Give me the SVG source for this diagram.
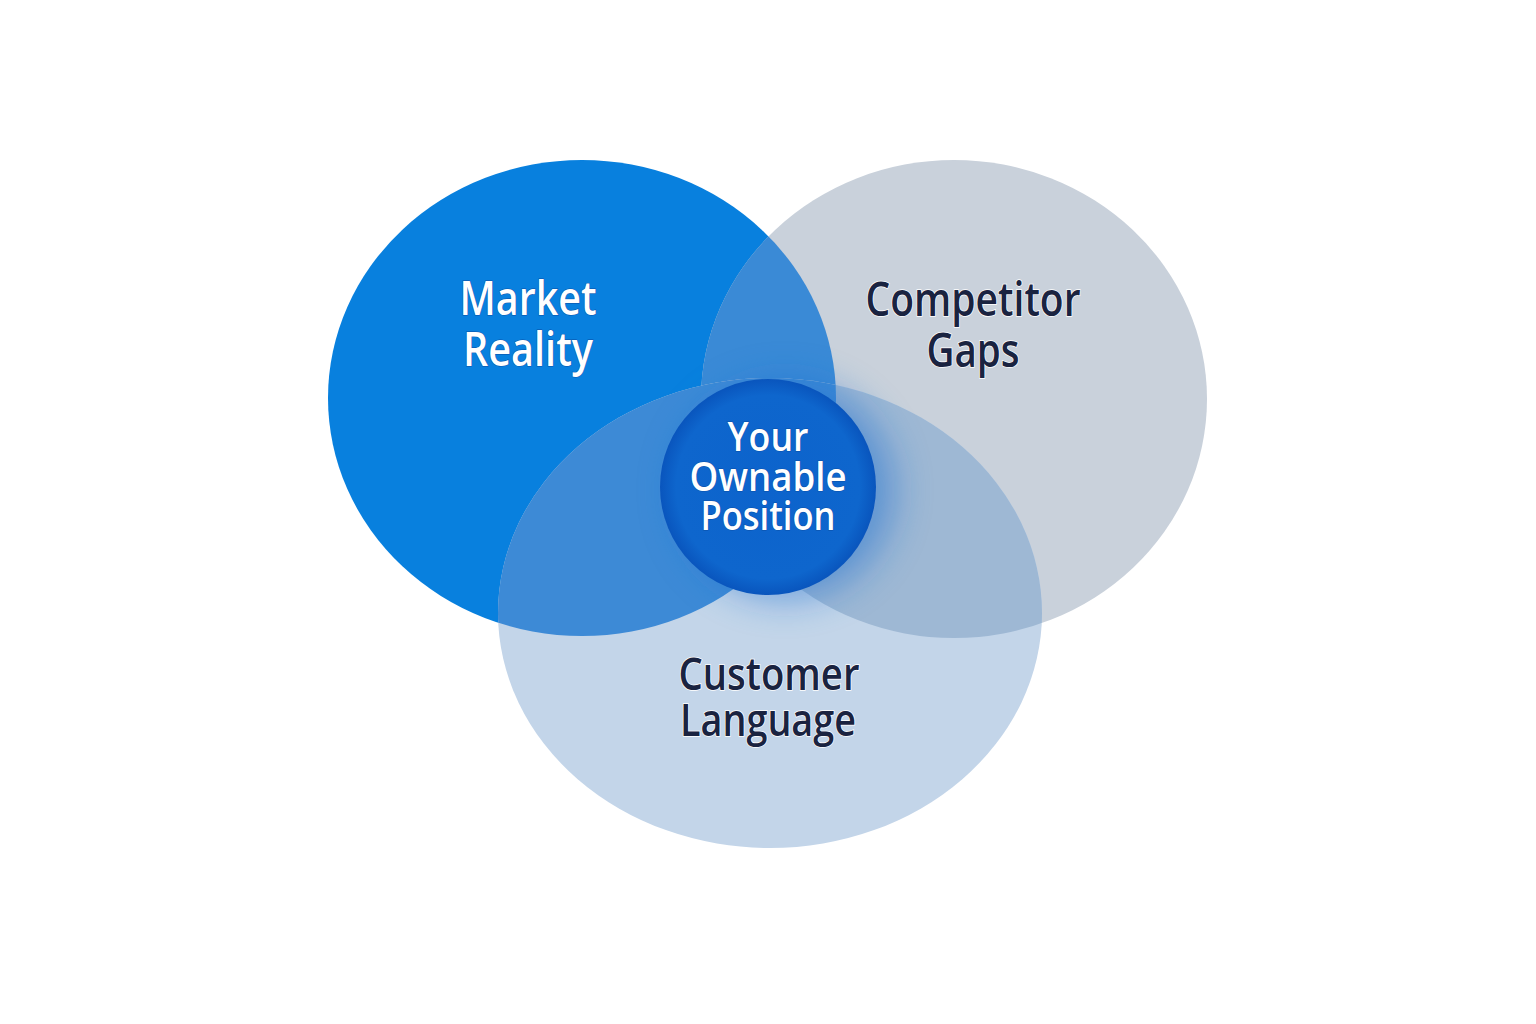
<svg xmlns="http://www.w3.org/2000/svg" width="1536" height="1024" viewBox="0 0 1536 1024">
<style>
.lbl{font-family:"Open Sans","Noto Sans",sans-serif;font-weight:600;text-anchor:middle}
.light{fill:#ffffff;stroke:#0a4fa8;stroke-width:1;paint-order:stroke}
.dark{fill:#1a2340;stroke:#ffffff;stroke-width:1.5;paint-order:stroke}
</style>
<defs>
<clipPath id="clipA"><ellipse cx="582" cy="398" rx="254" ry="238"/></clipPath>
<clipPath id="clipB"><ellipse cx="954" cy="399" rx="253" ry="239"/></clipPath>
<radialGradient id="core" cx="50%" cy="50%" r="50%">
<stop offset="0" stop-color="#0c63cc"/>
<stop offset="0.85" stop-color="#0e66cd"/>
<stop offset="1" stop-color="#0955bd"/>
</radialGradient>
<filter id="glow" x="-50%" y="-50%" width="200%" height="200%"><feGaussianBlur stdDeviation="18"/></filter>
</defs>
<rect width="1536" height="1024" fill="#ffffff"/>
<g id="market-reality">
<ellipse cx="582" cy="398" rx="254" ry="238" fill="#0880de"/>
</g>
<g id="competitor-gaps">
<ellipse cx="954" cy="399" rx="253" ry="239" fill="#c9d1db"/>
<ellipse cx="954" cy="399" rx="253" ry="239" fill="#3a8ad6" clip-path="url(#clipA)"/>
</g>
<g id="customer-language">
<ellipse cx="770" cy="613" rx="272" ry="235" fill="#c3d5e9"/>
<ellipse cx="770" cy="613" rx="272" ry="235" fill="#9eb8d4" clip-path="url(#clipB)"/>
<ellipse cx="770" cy="613" rx="272" ry="235" fill="#3d8ad6" clip-path="url(#clipA)"/>
</g>
<g id="your-ownable-position">
<circle cx="785" cy="490" r="110" fill="#1f6fd0" opacity="0.5" filter="url(#glow)"/>
<circle cx="768" cy="487" r="108" fill="url(#core)"/>
</g>
<g id="labels">
<text class="lbl light" font-size="47" x="528" y="315" textLength="137" lengthAdjust="spacingAndGlyphs">Market</text>
<text class="lbl light" font-size="47" x="528" y="366" textLength="130" lengthAdjust="spacingAndGlyphs">Reality</text>
<text class="lbl dark" font-size="47" x="973" y="316" textLength="215" lengthAdjust="spacingAndGlyphs">Competitor</text>
<text class="lbl dark" font-size="47" x="973" y="367" textLength="93" lengthAdjust="spacingAndGlyphs">Gaps</text>
<text class="lbl dark" font-size="45" x="769" y="690" textLength="181" lengthAdjust="spacingAndGlyphs">Customer</text>
<text class="lbl dark" font-size="45" x="768" y="736" textLength="176" lengthAdjust="spacingAndGlyphs">Language</text>
<text class="lbl light" font-size="40" x="768" y="451" textLength="81" lengthAdjust="spacingAndGlyphs">Your</text>
<text class="lbl light" font-size="40" x="768" y="491" textLength="157" lengthAdjust="spacingAndGlyphs">Ownable</text>
<text class="lbl light" font-size="40" x="768" y="530" textLength="135" lengthAdjust="spacingAndGlyphs">Position</text>
</g>
<g id="connectors"></g>
</svg>
